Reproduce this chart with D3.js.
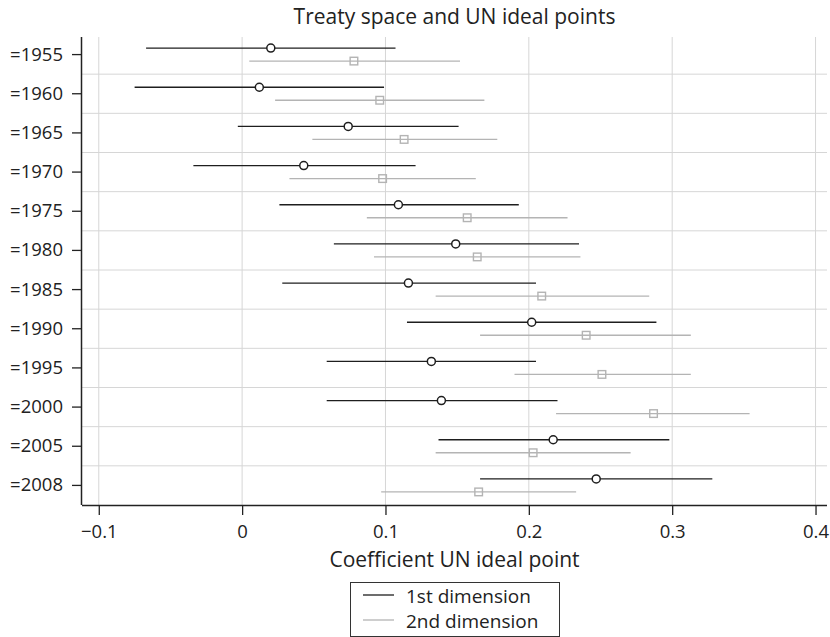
<!DOCTYPE html>
<html>
<head>
<meta charset="utf-8">
<script src="https://cdn.jsdelivr.net/npm/d3@7"></script>
<style>
  html, body { margin: 0; padding: 0; background: #fff; }
  svg { display: block; font-family: "Open Sans", "Noto Sans", sans-serif; }
</style>
</head>
<body>
<svg id="chart" width="830" height="637"></svg>
<script>
// Period categories (rows, top to bottom)
const periods = ["=1955", "=1960", "=1965", "=1970", "=1975", "=1980", "=1985", "=1990", "=1995", "=2000", "=2005", "=2008"];

// 1st dimension: point estimate with lower / upper confidence bounds
const dim1Est   = [0.020, 0.012, 0.074, 0.043, 0.109, 0.149, 0.116, 0.202, 0.132, 0.139, 0.217, 0.247];
const dim1Lower = [-0.067, -0.075, -0.003, -0.034, 0.026, 0.064, 0.028, 0.115, 0.059, 0.059, 0.137, 0.166];
const dim1Upper = [0.107, 0.099, 0.151, 0.121, 0.193, 0.235, 0.205, 0.289, 0.205, 0.220, 0.298, 0.328];

// 2nd dimension: point estimate with lower / upper confidence bounds
const dim2Est   = [0.078, 0.096, 0.113, 0.098, 0.157, 0.164, 0.209, 0.240, 0.251, 0.287, 0.203, 0.165];
const dim2Lower = [0.005, 0.023, 0.049, 0.033, 0.087, 0.092, 0.135, 0.166, 0.190, 0.219, 0.135, 0.097];
const dim2Upper = [0.152, 0.169, 0.178, 0.163, 0.227, 0.236, 0.284, 0.313, 0.313, 0.354, 0.271, 0.233];

const xTicks = [-0.1, 0, 0.1, 0.2, 0.3, 0.4];

const seriesNames = ["1st dimension", "2nd dimension"];
const colDark = "#1e1e1e";
const colLight = "#b4b4b4";

const margin = { top: 35, left: 82, right: 3, bottom: 132 };
const W = 830, H = 637;
const plotL = margin.left, plotR = W - margin.right;
const plotT = margin.top, plotB = H - margin.bottom;

const svg = d3.select("#chart");

const x = d3.scaleLinear().domain([-0.1117, 0.408]).range([plotL, plotR]);
const y = d3.scaleBand().domain(periods).range([plotT, plotB]).padding(0);
const yc = p => y(p) + y.bandwidth() / 2;

// Grid: vertical at x ticks, horizontal at row boundaries
const grid = svg.append("g");
grid.selectAll("line.v").data(xTicks).join("line")
  .attr("x1", d => x(d)).attr("x2", d => x(d))
  .attr("y1", plotT + 2).attr("y2", plotB)
  .attr("stroke", "#d6d6d6").attr("stroke-width", 1);
grid.selectAll("line.h").data(periods.slice(1)).join("line")
  .attr("x1", plotL).attr("x2", plotR)
  .attr("y1", d => y(d)).attr("y2", d => y(d))
  .attr("stroke", "#d6d6d6").attr("stroke-width", 1);

// Series rows
const off = 6.5;
const rows = periods.map((p, i) => ({ p, i }));

const g2 = svg.append("g");
g2.selectAll("line").data(rows).join("line")
  .attr("x1", d => x(dim2Lower[d.i])).attr("x2", d => x(dim2Upper[d.i]))
  .attr("y1", d => yc(d.p) + off).attr("y2", d => yc(d.p) + off)
  .attr("stroke", colLight).attr("stroke-width", 1.3);
g2.selectAll("rect").data(rows).join("rect")
  .attr("x", d => x(dim2Est[d.i]) - 3.8).attr("y", d => yc(d.p) + off - 3.8)
  .attr("width", 7.6).attr("height", 7.6)
  .attr("fill", "none").attr("stroke", colLight).attr("stroke-width", 1.4);

const g1 = svg.append("g");
g1.selectAll("line").data(rows).join("line")
  .attr("x1", d => x(dim1Lower[d.i])).attr("x2", d => x(dim1Upper[d.i]))
  .attr("y1", d => yc(d.p) - off).attr("y2", d => yc(d.p) - off)
  .attr("stroke", colDark).attr("stroke-width", 1.3);
g1.selectAll("circle").data(rows).join("circle")
  .attr("cx", d => x(dim1Est[d.i])).attr("cy", d => yc(d.p) - off)
  .attr("r", 4)
  .attr("fill", "#fff").attr("stroke", colDark).attr("stroke-width", 1.5);

// Axes
const xAxis = d3.axisBottom(x).tickValues(xTicks).tickSize(10).tickPadding(10)
  .tickFormat(d => d === 0 ? "0" : d3.format(".1f")(d).replace("-", "\u2013"));
const gx = svg.append("g").attr("transform", `translate(0,${plotB})`).call(xAxis);
gx.select(".domain").attr("d", `M${plotL},0.5H${plotR}`).attr("stroke", "#222").attr("stroke-width", 1.5);
gx.selectAll(".tick line").attr("stroke", "#222").attr("stroke-width", 1.3);
gx.selectAll(".tick text").attr("font-size", 18.5).attr("fill", "#222").attr("font-family", "Open Sans, Noto Sans, sans-serif");

const yAxis = d3.axisLeft(y).tickSize(10).tickPadding(9);
const gy = svg.append("g").attr("transform", `translate(${plotL},0)`).call(yAxis);
gy.select(".domain").attr("d", `M-0.5,${plotT + 2}V${plotB}`).attr("stroke", "#222").attr("stroke-width", 1.5);
gy.selectAll(".tick line").attr("stroke", "#222").attr("stroke-width", 1.3);
gy.selectAll(".tick text").attr("font-size", 18.5).attr("fill", "#222").attr("font-family", "Open Sans, Noto Sans, sans-serif");

// Title and axis title
const cx = (plotL + plotR) / 2;
svg.append("text").attr("x", cx).attr("y", 23.5).attr("text-anchor", "middle")
  .attr("font-size", 21).attr("fill", "#222").text("Treaty space and UN ideal points");
svg.append("text").attr("x", cx).attr("y", 567).attr("text-anchor", "middle")
  .attr("font-size", 21).attr("fill", "#222").text("Coefficient UN ideal point");

// Legend
const lg = svg.append("g");
lg.append("rect").attr("x", 350.5).attr("y", 582.5).attr("width", 209).attr("height", 54)
  .attr("fill", "#fff").attr("stroke", "#333").attr("stroke-width", 1);
const legendCols = [colDark, colLight];
seriesNames.forEach((name, i) => {
  const ly = 595 + i * 25;
  lg.append("line").attr("x1", 363).attr("x2", 394).attr("y1", ly).attr("y2", ly)
    .attr("stroke", legendCols[i]).attr("stroke-width", 1.3);
  lg.append("text").attr("x", 406).attr("y", ly + 7.5)
    .attr("font-size", 19).attr("fill", "#222").text(name);
});
</script>
</body>
</html>
